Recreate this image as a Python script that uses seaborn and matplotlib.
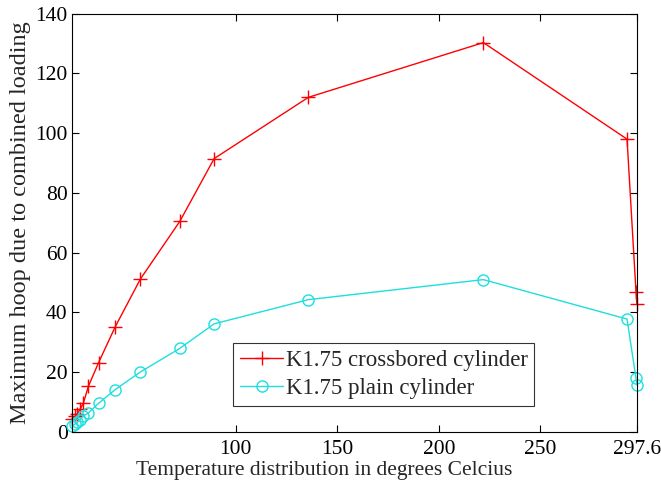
import matplotlib
matplotlib.use("Agg")
import matplotlib.pyplot as plt
import seaborn as sns
import pandas as pd

# Temperature positions (degrees Celcius)
temperature = [19.5, 20.9, 22.1, 23.4, 25.0, 27.5, 32.5, 40.7, 53.1, 72.5,
               89.4, 135.8, 221.9, 292.6, 297.0, 297.4]

# Maximum hoop stress due to combined loading
crossbored = [4.5, 5.3, 6.2, 7.6, 9.6, 15.3, 23.2, 35.2, 51.2, 70.5,
              91.5, 112.0, 130.3, 98.0, 47.0, 43.0]
plain = [2.0, 2.7, 3.2, 4.2, 5.3, 6.4, 9.6, 14.2, 20.1, 28.0,
         36.2, 44.3, 51.0, 37.8, 18.0, 15.8]

xticks = [100, 150, 200, 250, 297.6]
xtick_labels = ["100", "150", "200", "250", "297.6"]
yticks = [0, 20, 40, 60, 80, 100, 120, 140]

RED = "#ff0000"
CYAN = "#1fdede"

sns.set_style("ticks")
plt.rcParams["font.family"] = ["Liberation Serif", "DejaVu Serif"]

df_cross = pd.DataFrame({"t": temperature, "v": crossbored})
df_plain = pd.DataFrame({"t": temperature, "v": plain})

fig = plt.figure(figsize=(6.61, 4.86), dpi=100)
ax = fig.add_axes([0.1085, 0.111, 0.8555, 0.861])

sns.lineplot(data=df_cross, x="t", y="v", ax=ax, color=RED, lw=1.0,
             marker="+", markersize=10, markeredgecolor=RED,
             markeredgewidth=1.0, estimator=None, sort=False,
             label="K1.75 crossbored cylinder", clip_on=False)
sns.lineplot(data=df_plain, x="t", y="v", ax=ax, color=CYAN, lw=1.0,
             marker="o", markersize=8, markerfacecolor="none",
             markeredgecolor=CYAN, markeredgewidth=1.0, estimator=None,
             sort=False, label="K1.75 plain cylinder", clip_on=False)

ax.set_xlim(19.3, 297.6)
ax.set_ylim(0, 140)
ax.set_xticks(xticks)
ax.set_xticklabels(xtick_labels)
ax.set_yticks(yticks)
ax.tick_params(direction="in", length=5, width=0.8, top=True, right=True,
               labelsize=15.5, colors="black")
ax.tick_params(axis="x", pad=6)
ax.tick_params(axis="y", pad=3)
for s in ax.spines.values():
    s.set_linewidth(0.8)
    s.set_color("black")

ax.set_xlabel("Temperature distribution in degrees Celcius", fontsize=15.5)
ax.xaxis.set_label_coords(0.446, -0.068)
ax.set_ylabel("Maximum hoop due to combined loading", fontsize=17.5, labelpad=3)

leg = ax.legend(loc="lower left", bbox_to_anchor=(0.285, 0.063), fontsize=16.5,
                frameon=True, fancybox=False, edgecolor="black",
                handlelength=1.9, handletextpad=0.1, borderpad=0.3,
                labelspacing=0.3, borderaxespad=0)
leg.get_frame().set_linewidth(0.8)

fig.savefig("out.png", dpi=100)
